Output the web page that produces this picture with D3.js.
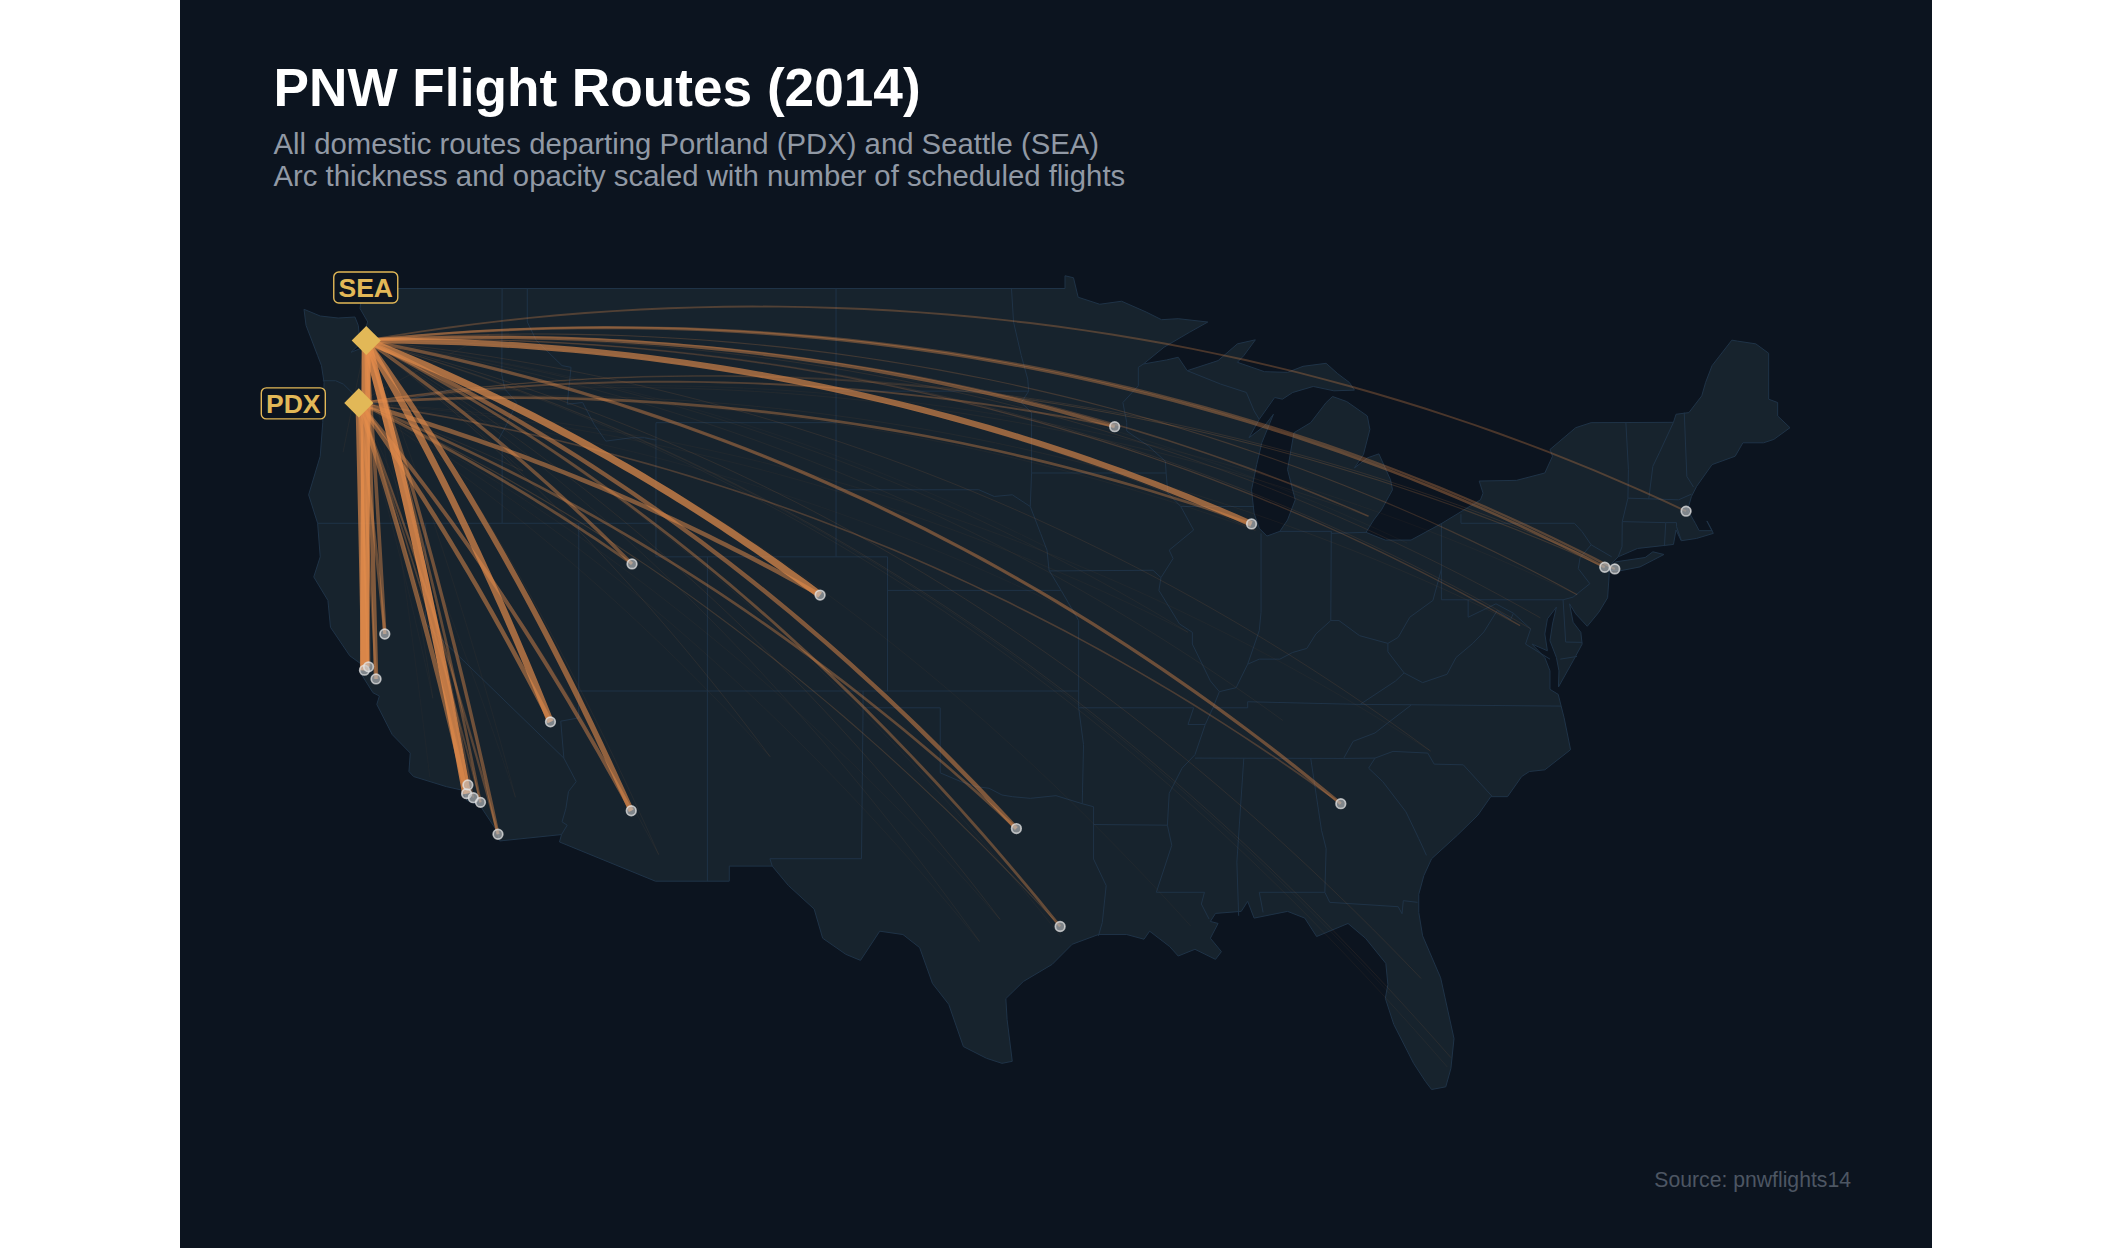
<!DOCTYPE html>
<html>
<head>
<meta charset="utf-8">
<script src="https://d3js.org/d3.v7.min.js"></script>
<style>
  html, body { margin: 0; padding: 0; background: #fff; }
  svg { display: block; }
  text { font-family: "Liberation Sans", Arial, sans-serif; }
</style>
</head>
<body>
<svg id="chart" width="2112" height="1248"></svg>
<script>
const hubCodes = ["SEA", "PDX"];
const hubLons = [-122.31, -122.6];
const hubLats = [47.45, 45.59];

const destCodes = ["SFO","OAK","SJC","SMF","LAX","BUR","LGB","SNA","SAN","LAS","PHX","SLC","DEN","DFW","IAH","ATL","ORD","MSP","EWR","JFK","BOS",
                   "DTW","PHL","IAD","DCA","BWI","CLT","MCO","MIA","FLL","BNA","AUS","SAT","ABQ","TUS","EUG","FAT","SBA","PSP","ONT","RNO","BOI","GEG","MCI","STL","MDW","TPA","HOU","DAL","MSY","OMA","CLE"];
const destLons = [-122.38,-122.22,-121.93,-121.59,-118.41,-118.36,-118.15,-117.87,-117.19,-115.15,-112.01,-111.98,-104.67,-97.04,-95.34,-84.43,-87.9,-93.22,-74.17,-73.78,-71.01,
                  -83.35,-75.24,-77.46,-77.04,-76.67,-80.94,-81.31,-80.29,-80.15,-86.68,-97.67,-98.47,-106.61,-110.94,-123.21,-119.72,-119.84,-116.51,-117.6,-119.77,-116.22,-117.53,-94.71,-90.37,-87.75,-82.53,-95.28,-96.85,-90.26,-95.89,-81.85];
const destLats = [37.62,37.72,37.36,38.7,33.94,34.2,33.82,33.68,32.73,36.08,33.43,40.79,39.86,32.9,29.98,33.64,41.98,44.88,40.69,40.64,42.36,
                  42.21,39.87,38.95,38.85,39.18,35.21,28.43,25.79,26.07,36.12,30.19,29.53,35.04,32.12,44.12,36.78,34.43,33.83,34.06,39.5,43.56,47.62,39.3,38.75,41.79,27.98,29.65,32.85,29.99,41.3,41.41];
const seaFlights = [5700,2100,2700,2100,5600,800,800,1500,2000,4200,3400,2000,4500,2600,1600,1900,3700,2000,1500,1200,1000,
                    800,500,600,250,250,250,250,120,200,120,180,120,200,120,100,60,30,60,80,100,100,60,100,100,200,80,60,60,60,40,50];
const pdxFlights = [4100,1500,1200,1700,2700,350,200,900,1200,2700,2300,1600,2700,1500,450,800,1500,1000,450,300,0,
                    100,60,100,0,0,60,0,0,0,0,60,60,60,80,0,40,0,40,100,100,200,100,40,60,60,0,0,0,0,0,0];
const topDests = destCodes.slice(0, 21);

const colors = { page: "#fff", panel: "#0c141f", land: "#17232d", border: "#1f3347", arc: "#e68d4b", hub: "#e2b857", sub: "#9199a5", source: "#4d5663" };

//Scales
const x = d3.scaleLinear().domain([-124.73, -66.97]).range([304, 1790]);
const y = d3.scaleLinear().domain([49, 25.12]).range([288.5, 1089.5]);
const lineGeo = d3.line().x(d => x(d[0])).y(d => y(d[1]));
const widthScale = d3.scaleLinear().domain([0, 6000]).range([0.4, 9.5]);
const alphaScale = d3.scalePow().exponent(0.7).domain([0, 6000]).range([0.06, 0.85]);

//Outline of the lower 48, walking clockwise from Cape Flattery
const landOutline = [[-124.73,48.38],[-124.1,48.18],[-123.4,48.12],[-122.75,48.15],[-122.62,47.9],[-122.55,47.35],[-122.9,47.1],[-122.4,47.25],[-122.4,47.7],[-122.25,48.0],[-122.55,48.4],[-122.5,48.75],[-122.76,49],
[-95.15,49],[-95.15,49.38],[-94.82,49.32],[-94.64,48.74],[-93.8,48.53],[-92.95,48.62],[-92.0,48.3],[-91.4,48.07],[-90.75,48.1],[-89.6,48],[-90.3,47.7],[-91.3,47.25],[-92.1,46.75],[-91.2,46.87],[-90.75,46.95],[-90.4,46.55],[-89.2,46.85],[-88.45,47.35],[-87.75,47.47],[-88.2,47],[-88.45,46.8],[-87.4,46.52],[-86.5,46.5],[-85.9,46.68],[-85,46.77],[-84.55,46.46],[-84.1,46.2],[-83.9,45.97],[-84.7,45.95],[-85.5,46.08],[-86.3,45.9],[-86.7,45.7],[-87,45.75],[-87.6,45.1],[-88,44.55],[-87.4,44.9],[-87.05,45.25],[-87.5,44.4],[-87.7,43.75],[-87.9,43],[-87.8,42.3],[-87.6,41.85],[-87.3,41.62],[-86.8,41.76],[-86.5,42.1],[-86.2,42.7],[-86.5,43.6],[-86.25,44.7],[-85.6,45],[-85,45.6],[-84.75,45.78],[-84.2,45.63],[-83.4,45.2],[-83.3,44.8],[-83.55,44.05],[-83.9,43.65],[-83.4,43.95],[-82.95,44.07],[-82.5,43.3],[-82.42,43],[-82.85,42.4],[-83.15,42.1],[-83.45,41.73],[-82.7,41.5],[-81.7,41.5],[-80.5,42],[-79,42.7],[-78.9,42.9],[-79.05,43.26],[-77.6,43.28],[-76.5,43.5],[-76.2,44],[-76.3,44.2],[-75.3,44.85],[-74.7,45],[-71.5,45.01],[-71.4,45.25],[-70.9,45.3],[-70.4,45.8],[-70.25,46.2],[-70,46.7],[-69.23,47.46],[-69,47.43],[-68.3,47.35],[-67.8,47.07],[-67.8,45.7],[-67.45,45.6],[-67.45,45.2],[-66.97,44.85],[-67.6,44.5],[-68,44.4],[-68.8,44.4],[-69.1,44],[-70,43.75],[-70.6,43.1],[-70.8,42.8],[-70.95,42.4],[-70.65,42],[-70.5,41.78],[-70,41.78],[-70.2,42.07],[-69.95,41.7],[-70.6,41.55],[-71.2,41.48],[-71.4,41.8],[-71.5,41.37],[-72.9,41.25],[-73.65,41],[-73.9,40.8],[-74,40.7],[-74,40.45],[-74.06,39.78],[-74.4,39.35],[-74.85,38.93],[-75.3,39.3],[-75.54,39.6],[-75.4,39.05],[-75.1,38.75],[-75.05,38.4],[-75.4,37.9],[-75.97,37.12],[-75.95,37.6],[-76.05,38],[-76.3,38.5],[-76.2,39],[-76.05,39.5],[-76.4,39.15],[-76.5,38.7],[-76.4,38.2],[-77,38.4],[-76.5,38],[-76.3,37.6],[-76.3,37.05],[-75.98,36.9],[-75.75,36.2],[-75.5,35.25],[-76.5,34.65],[-77.1,34.6],[-77.4,34.45],[-77.95,33.85],[-78.6,33.85],[-79.1,33.3],[-79.9,32.7],[-80.9,32],[-81.2,31.5],[-81.4,30.94],[-81.4,30.4],[-81.25,29.7],[-80.55,28.45],[-80.03,26.64],[-80.15,25.75],[-80.35,25.2],[-80.9,25.12],[-81.14,25.36],[-81.6,25.9],[-82.37,27.06],[-82.7,27.84],[-82.6,28.25],[-82.68,28.88],[-83.47,29.63],[-84.15,30.07],[-85.37,29.68],[-85.83,30.23],[-86.5,30.43],[-87.8,30.23],[-88.05,30.73],[-88.3,30.43],[-89.3,30.37],[-89.5,30.13],[-89.2,30.07],[-89.5,29.63],[-89.07,29.23],[-89.3,29],[-90.1,29.3],[-90.75,29.1],[-91.08,29.38],[-91.86,29.84],[-92.08,29.6],[-92.75,29.74],[-93.85,29.74],[-94.87,29.45],[-95.65,28.85],[-96.77,28.34],[-97.45,27.83],[-97.4,27.2],[-97.2,25.96],[-97.6,25.9],[-98.2,26.05],[-99.1,26.4],[-99.67,27.66],[-100.3,28.28],[-100.8,29.35],[-101.45,29.74],[-102.35,29.84],[-103.1,28.97],[-103.67,29.15],[-104.57,29.63],[-104.9,30.5],[-105.9,31.2],[-106.53,31.78],[-108.2,31.78],[-108.2,31.33],[-111.07,31.33],[-114.8,32.5],[-114.72,32.72],[-117.12,32.53],[-117.25,32.85],[-117.9,33.6],[-118.4,33.74],[-118.5,34.03],[-119.2,34.15],[-120.47,34.45],[-120.65,34.6],[-120.6,35.15],[-121.3,35.7],[-121.9,36.6],[-121.8,36.85],[-122.05,36.95],[-122.5,37.5],[-122.5,37.8],[-122.95,38.05],[-123.7,38.9],[-123.8,39.7],[-124.35,40.4],[-124.1,41],[-124.2,42],[-124.55,42.85],[-124.1,44],[-124,45],[-123.95,46.2],[-124.05,46.7],[-124.2,47],[-124.65,47.9]];
const longIsland = [[-74,40.6],[-73.75,40.85],[-72.6,40.98],[-72.3,41.15],[-71.87,41.07],[-72.8,40.7],[-73.6,40.58]];

//State lines
const stateLines = [
[[-124,46.25],[-123.5,46.25],[-123.2,46.15],[-122.8,45.85],[-122.75,45.65],[-122.3,45.55],[-121.2,45.65],[-120.5,45.72],[-119.3,45.93],[-119,46],[-116.92,46]],
[[-117.03,49],[-117.04,46.42],[-116.92,46],[-116.46,45.6],[-116.85,44.95],[-117.2,44.45],[-117.03,44.25],[-117.03,42]],
[[-124.2,42],[-111.05,42]],
[[-120,42],[-120,39],[-114.63,35]],
[[-114.05,37],[-114.05,36.2],[-114.75,36.1],[-114.63,35],[-114.15,34.3],[-114.45,34],[-114.55,33.5],[-114.7,33.1],[-114.5,33],[-114.72,32.72]],
[[-114.05,42],[-114.05,37],[-94.62,37]],
[[-109.05,41],[-109.05,31.33]],
[[-111.05,45],[-111.05,41],[-102.05,41],[-102.05,37]],
[[-104.05,49],[-104.05,41]],
[[-116.05,49],[-116.05,48],[-115.7,47.45],[-114.7,46.7],[-114.35,46.65],[-114.5,45.55],[-113.9,45.6],[-113.45,44.95],[-113,44.45],[-112,44.55],[-111.5,44.55],[-111.05,44.48]],
[[-111.05,45],[-104.05,45]],
[[-104.05,45.94],[-96.56,45.94]],
[[-104.05,43],[-98.5,43],[-97.9,42.8],[-97.2,42.85],[-96.5,42.5]],
[[-102.05,40],[-95.3,40]],
[[-103,37],[-103,36.5],[-103.06,32],[-106.62,32],[-106.53,31.78]],
[[-103,36.5],[-100,36.5],[-100,34.56],[-99.2,34.3],[-98.6,34.15],[-98.1,34.1],[-97.6,33.9],[-97.2,33.85],[-96.5,33.8],[-95.5,33.88],[-94.48,33.64]],
[[-94.62,37],[-94.62,36.5],[-94.43,35.4],[-94.48,33.64],[-94.04,33.55],[-94.04,31.99],[-93.55,31.2],[-93.7,30.1],[-93.85,29.7]],
[[-94.04,33.02],[-91.17,33]],
[[-94.62,37],[-94.62,39.1],[-95.3,40],[-95.77,40.6],[-95.85,41.2],[-96.1,41.7],[-96.5,42.5],[-96.45,43.5],[-96.45,45.3],[-96.85,45.6],[-96.56,45.94],[-96.6,46.3],[-96.85,47],[-97.15,48],[-97.23,49]],
[[-96.45,43.5],[-91.22,43.5]],
[[-95.77,40.58],[-91.73,40.6],[-91.42,40.38]],
[[-92.1,46.75],[-92.3,46.65],[-92.3,46.1],[-92.9,45.6],[-92.75,45],[-92.75,44.75],[-91.9,44.3],[-91.25,43.85],[-91.22,43.5],[-91.15,42.9],[-90.65,42.5],[-90.15,41.8],[-91.1,41.2],[-90.95,40.95],[-91.42,40.38],[-91.5,40],[-90.7,39],[-90.2,38.75],[-90.2,38.4],[-89.5,37.3],[-89.15,36.98],[-89.4,36.5],[-89.7,36],[-90.1,35.1],[-90.6,34.7],[-91.1,33.95],[-91.17,33],[-91,32.4],[-91.6,31],[-89.73,31],[-89.85,30.65],[-89.55,30.2]],
[[-94.62,36.5],[-90.15,36.5],[-90.37,36],[-89.7,36]],
[[-88.2,35],[-88.47,31.9],[-88.4,30.3]],
[[-90.1,35],[-84.32,34.99],[-83.95,35.5],[-83.1,35.75],[-82.6,36.05],[-81.68,36.59]],
[[-89.4,36.5],[-88.05,36.5],[-88.05,36.68],[-83.68,36.6],[-81.68,36.59],[-75.87,36.55]],
[[-85.6,35],[-85.18,32.85],[-85,32.3],[-85.05,31],[-84.86,30.7],[-82.2,30.57],[-82.05,30.36],[-82,30.75],[-81.45,30.7]],
[[-87.45,30.4],[-87.6,31],[-85.05,31]],
[[-84.32,34.99],[-83.1,35],[-83.35,34.7],[-82.8,34.3],[-81.9,33.4],[-81.4,32.6],[-81.1,32.1]],
[[-83.1,35],[-82.4,35.2],[-81.05,35.15],[-80.8,34.82],[-79.67,34.8],[-78.55,33.86]],
[[-89.15,36.98],[-88.5,37.1],[-88.05,37.8],[-87.6,37.95],[-86.8,37.95],[-86.3,38.15],[-85.75,38.27],[-85.4,38.7],[-84.82,39.1],[-84.5,39.1],[-83.7,38.65],[-82.6,38.42],[-82.2,38.6],[-81.75,39.2],[-80.85,39.7],[-80.52,40.63]],
[[-83.68,36.6],[-82.3,37.3],[-81.97,37.54],[-82.6,38.17],[-82.6,38.42]],
[[-81.97,37.54],[-81.25,37.25],[-80.3,37.5],[-79.95,38],[-79.3,38.42],[-78.87,38.76],[-78.35,39.4],[-77.83,39.13],[-77.72,39.32],[-77.05,38.85],[-77.25,38.4],[-76.3,37.95]],
[[-87.53,41.7],[-87.53,39.35],[-87.6,38.8],[-88.05,37.8]],
[[-84.82,39.1],[-84.8,41.76]],
[[-86.82,41.76],[-84.8,41.76],[-84.8,41.7],[-83.45,41.73]],
[[-90.65,42.5],[-87.8,42.5]],
[[-90.4,46.55],[-89.1,46.15],[-88.1,45.9],[-87.8,45.35],[-87.6,45.1]],
[[-80.52,42],[-80.52,39.72],[-75.79,39.72],[-75.69,38.46],[-75.05,38.45]],
[[-79.76,42.27],[-79.76,42],[-75.35,42],[-75.05,41.75],[-74.7,41.36],[-75.13,40.97],[-75.2,40.65],[-74.75,40.2],[-75.4,39.8],[-75.79,39.72]],
[[-79.48,39.72],[-79.48,39.2],[-78.4,39.6],[-77.72,39.32]],
[[-75.9,37.95],[-75.25,38.03]],
[[-74.7,41.36],[-73.9,41]],
[[-73.65,41],[-73.5,41.3],[-73.49,42.05],[-73.27,42.75],[-73.25,43.6],[-73.35,45.01]],
[[-73.49,42.05],[-71.8,42.02],[-71.38,42.02],[-71.38,41.9],[-71.2,41.5]],
[[-71.8,42.02],[-71.85,41.32]],
[[-72.46,42.73],[-72.3,43.7],[-72.05,44.1],[-71.5,45.01]],
[[-73.27,42.75],[-71.3,42.7],[-70.8,42.87]],
[[-70.72,43.08],[-70.98,43.4],[-71.08,45.3]]
];

//Routes from the parallel arrays, thin ones drawn first
let routes = [];
destCodes.forEach(function(code, i) {
  [seaFlights[i], pdxFlights[i]].forEach(function(n, h) {
    if (n > 0) routes.push({ hub: h, dest: i, flights: n });
  });
});
routes.sort((a, b) => a.flights - b.flights);

function arcPoints(r) {
  let interp = d3.geoInterpolate([hubLons[r.hub], hubLats[r.hub]], [destLons[r.dest], destLats[r.dest]]);
  return d3.range(0, 1.0001, 0.02).map(interp);
}

let svg = d3.select("#chart");

svg.append("rect").attr("x", 180).attr("y", 0).attr("width", 1752).attr("height", 1248).attr("fill", colors.panel);

//Map
svg.append("g").selectAll("path").data([landOutline, longIsland]).enter().append("path")
  .attr("d", d => lineGeo(d) + "Z")
  .attr("fill", colors.land).attr("stroke", colors.border).attr("stroke-width", 1);
svg.append("g").selectAll("path").data(stateLines).enter().append("path")
  .attr("d", lineGeo).attr("fill", "none")
  .attr("stroke", colors.border).attr("stroke-width", 1);

//Arcs
svg.append("g").selectAll("path").data(routes).enter().append("path")
  .attr("d", d => lineGeo(arcPoints(d))).attr("fill", "none")
  .attr("stroke", colors.arc)
  .attr("stroke-width", d => widthScale(d.flights))
  .attr("stroke-opacity", d => alphaScale(d.flights));

//Destination dots
svg.append("g").selectAll("circle").data(topDests).enter().append("circle")
  .attr("cx", d => x(destLons[destCodes.indexOf(d)]))
  .attr("cy", d => y(destLats[destCodes.indexOf(d)]))
  .attr("r", 4.8)
  .attr("fill", "#c4c6c8").attr("fill-opacity", 0.6)
  .attr("stroke", "#e6e6e6").attr("stroke-opacity", 0.75).attr("stroke-width", 1.7);

//Hubs
svg.append("g").selectAll("path").data(hubCodes).enter().append("path")
  .attr("transform", (d, i) => "translate(" + x(hubLons[i]) + "," + y(hubLats[i]) + ")")
  .attr("d", d3.symbol().type(d3.symbolDiamond2).size(540))
  .attr("fill", colors.hub);

//Hub labels
const labelDx = [-0.5, -65.5];
const labelDy = [-53, 0.5];
let labels = svg.append("g").selectAll("g").data(hubCodes).enter().append("g")
  .attr("transform", (d, i) => "translate(" + (x(hubLons[i]) + labelDx[i]) + "," + (y(hubLats[i]) + labelDy[i]) + ")");
labels.append("rect").attr("x", -32).attr("y", -15.5).attr("width", 64).attr("height", 31).attr("rx", 5)
  .attr("fill", colors.panel).attr("stroke", colors.hub).attr("stroke-width", 1.4);
labels.append("text").text(d => d).attr("text-anchor", "middle").attr("y", 9.5)
  .attr("font-size", 26.5).attr("font-weight", "bold").attr("fill", colors.hub);

//Titles
svg.append("text").text("PNW Flight Routes (2014)").attr("x", 273.5).attr("y", 106)
  .attr("font-size", 53.2).attr("font-weight", "bold").attr("fill", "#fff");
svg.append("text").text("All domestic routes departing Portland (PDX) and Seattle (SEA)").attr("x", 273.5).attr("y", 153.5)
  .attr("font-size", 29.3).attr("fill", colors.sub);
svg.append("text").text("Arc thickness and opacity scaled with number of scheduled flights").attr("x", 273.5).attr("y", 186)
  .attr("font-size", 29.3).attr("fill", colors.sub);
svg.append("text").text("Source: pnwflights14").attr("x", 1851).attr("y", 1186.5).attr("text-anchor", "end")
  .attr("font-size", 21.2).attr("fill", colors.source);
</script>
</body>
</html>
